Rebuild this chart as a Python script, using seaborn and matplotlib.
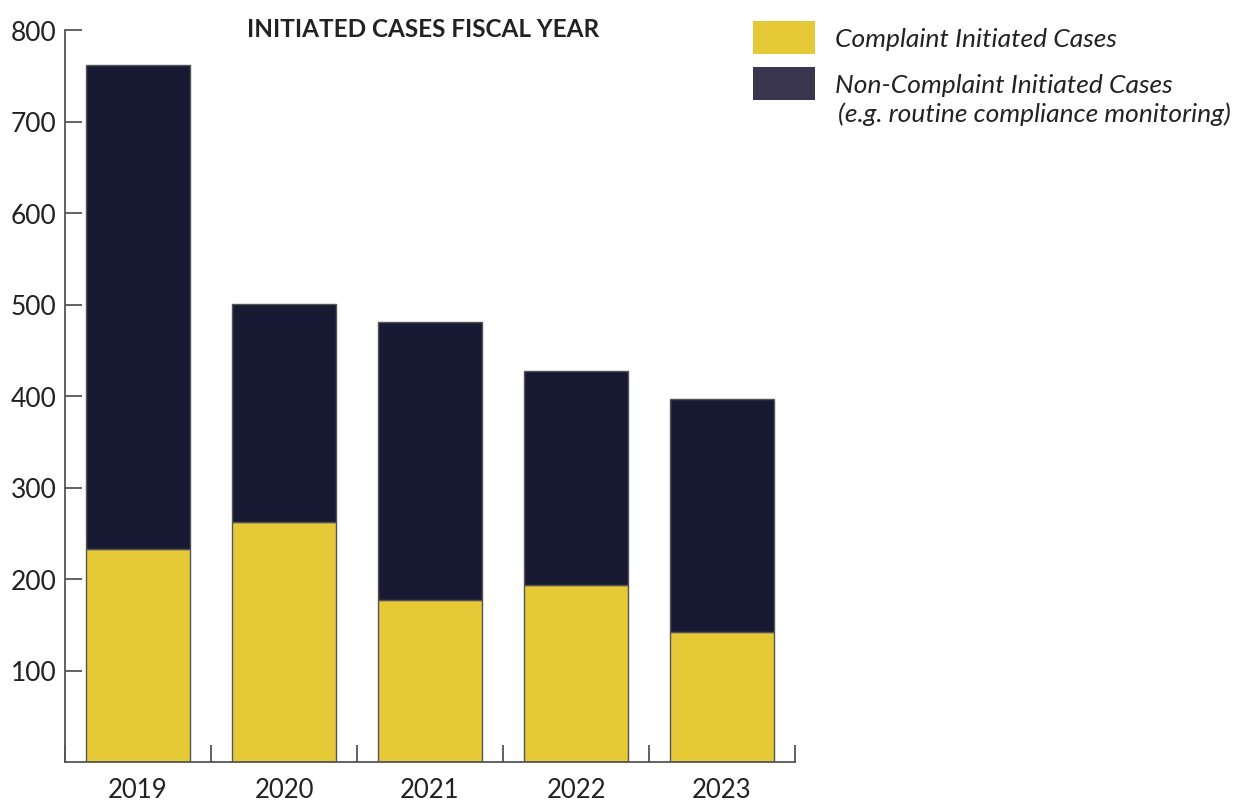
import matplotlib
matplotlib.use("Agg")
import matplotlib.pyplot as plt
from matplotlib.patches import Patch
from matplotlib.ticker import FixedLocator
import seaborn as sns
import pandas as pd

years = ["2019", "2020", "2021", "2022", "2023"]
complaint = [233, 262, 177, 193, 142]
non_complaint = [529, 239, 304, 234, 255]

YELLOW = "#E6C937"
NAVY = "#181A33"
LEGEND_NAVY = "#3A3650"
EDGE = "#555555"
TEXT = "#222222"

sns.set_theme(style="white")
plt.rcParams["font.family"] = ["Lato", "DejaVu Sans"]

df = pd.DataFrame({"year": years, "complaint": complaint, "non_complaint": non_complaint})

fig = plt.figure(figsize=(12.38, 8.04), dpi=100)
ax = fig.add_axes([65 / 1238, 1 - 763 / 804, 730 / 1238, 732 / 804])

sns.barplot(data=df, x="year", y="complaint", color=YELLOW, width=0.71,
            saturation=1, edgecolor=EDGE, linewidth=1.0, ax=ax)
sns.barplot(data=df, x="year", y="non_complaint", bottom=df["complaint"], color=NAVY,
            width=0.71, saturation=1, edgecolor=EDGE, linewidth=1.0, ax=ax)

ax.set_xlim(-0.5, 4.5)
ax.set_ylim(0, 800)
ax.set_xlabel("")
ax.set_ylabel("")

ax.set_yticks(range(100, 801, 100))
ax.tick_params(axis="y", direction="in", length=12, width=1.3, color=EDGE,
               labelsize=19, labelcolor=TEXT, pad=6, left=True)
ax.tick_params(axis="x", which="major", length=0, labelsize=18.5, labelcolor=TEXT, pad=11)
ax.xaxis.set_minor_locator(FixedLocator([-0.5, 0.5, 1.5, 2.5, 3.5, 4.5]))
ax.tick_params(axis="x", which="minor", direction="in", length=12, width=1.3,
               color=EDGE, bottom=True)

for side in ("top", "right"):
    ax.spines[side].set_visible(False)
for side in ("left", "bottom"):
    ax.spines[side].set_color(EDGE)
    ax.spines[side].set_linewidth(1.3)

ax.set_title("INITIATED CASES FISCAL YEAR", fontsize=17.5, fontweight="bold",
             color=TEXT, pad=-4, x=0.49, y=1.0)

# legend: swatch rows, with the explanatory second line set beneath the second entry
handles = [Patch(facecolor=YELLOW, edgecolor="none"),
           Patch(facecolor=LEGEND_NAVY, edgecolor="none")]
labels = ["Complaint Initiated Cases", "Non-Complaint Initiated Cases"]
leg = fig.legend(handles, labels, loc="upper left",
                 bbox_to_anchor=(753 / 1238, 1 - 22 / 804),
                 frameon=False, handlelength=2.35, handleheight=1.55, handletextpad=0.76,
                 labelspacing=0.5, borderpad=0.0, borderaxespad=0.0,
                 prop={"size": 19, "style": "italic"})
for t in leg.get_texts():
    t.set_color(TEXT)
fig.text(838 / 1238, 1 - 114 / 804, "(e.g. routine compliance monitoring)",
         fontsize=19, style="italic", color=TEXT, ha="left", va="center")

fig.savefig("out.png", dpi=100)
